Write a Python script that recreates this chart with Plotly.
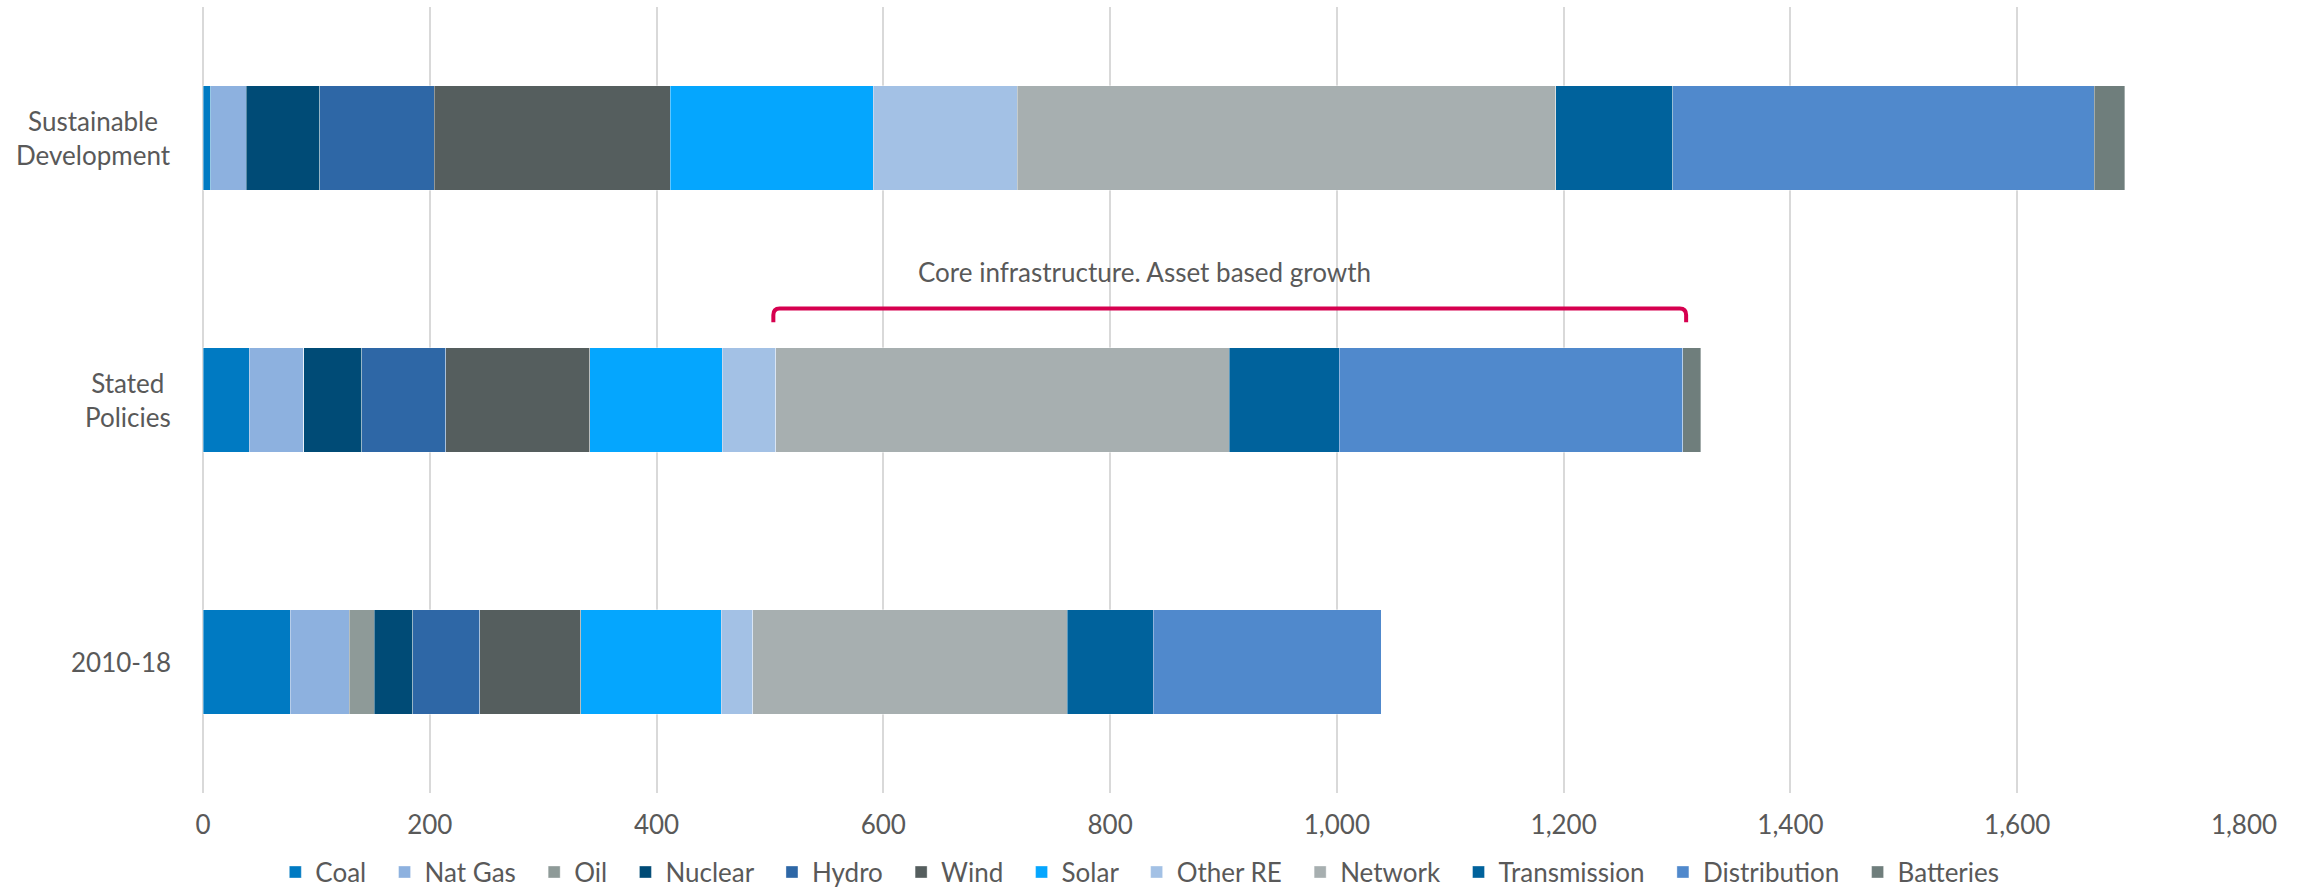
import plotly.graph_objects as go

# Investment by technology, three scenarios (horizontal stacked bars)
categories = ["2010-18", "Stated Policies", "Sustainable Development"]
category_labels = ["2010-18", "Stated<br>Policies", "Sustainable<br>Development"]

series_names = ["Coal", "Nat Gas", "Oil", "Nuclear", "Hydro", "Wind", "Solar",
                "Other RE", "Network", "Transmission", "Distribution", "Batteries"]

coal = [77, 41, 7]
nat_gas = [52, 48, 31]
oil = [22, 0, 0]
nuclear = [34, 51, 65]
hydro = [59, 74, 101]
wind = [89, 127, 208]
solar = [124, 117, 179]
other_re = [28, 47, 127]
network = [277, 400, 475]
transmission = [76, 97, 103]
distribution = [201, 303, 372]
batteries = [0, 16, 27]

series_values = [coal, nat_gas, oil, nuclear, hydro, wind, solar,
                 other_re, network, transmission, distribution, batteries]

series_colors = ["#007AC2", "#8DB1DF", "#8E9A98", "#004B76", "#2E67A6", "#555E5E",
                 "#05A6FE", "#A3C1E5", "#A7AFB0", "#00629C", "#5089CC", "#6F7E7C"]

x_ticks = [0, 200, 400, 600, 800, 1000, 1200, 1400, 1600, 1800]

# Bracket spanning the core-infrastructure segments of the Stated Policies bar
bracket_x = [503, 1308]
bracket_label = "Core infrastructure. Asset based growth"
bracket_label_x = 830

FONT = "Lato, Liberation Sans, Arial, sans-serif"
TEXT_COLOR = "#595959"

# extra breathing room after each legend entry (non-breaking spaces)
LEGEND_PAD = "\u00a0\u00a0"

fig = go.Figure()
n_series = len(series_names)
for i, (name, vals, color) in enumerate(zip(series_names, series_values, series_colors)):
    legend_name = name + (LEGEND_PAD if i < n_series - 1 else "")
    fig.add_trace(go.Bar(
        name=legend_name,
        y=categories,
        x=vals,
        orientation="h",
        marker=dict(color=color, line=dict(color="rgba(255,255,255,0.45)", width=0.8)),
        hovertemplate="%{y}<br>" + name + ": %{x}<extra></extra>",
    ))

# Category labels, each line centred
annotations = []
for cat, lab in zip(categories, category_labels):
    annotations.append(dict(
        x=0, xref="paper", xanchor="right", xshift=-30,
        y=cat, yref="y", yanchor="middle",
        text=lab, align="center", showarrow=False,
        font=dict(family=FONT, size=26, color=TEXT_COLOR),
    ))

# Bracket label
sp_idx = categories.index("Stated Policies")
annotations.append(dict(
    x=bracket_label_x, xref="x", y=sp_idx + 0.49, yref="y",
    xanchor="center", yanchor="middle",
    text=bracket_label, showarrow=False,
    font=dict(family=FONT, size=26, color=TEXT_COLOR),
))

# Bracket path (rounded top corners)
y_top = sp_idx + 0.349
y_bot = sp_idx + 0.297
rx = 5.5
ry = 0.025
x0, x1 = bracket_x
path = (f"M{x0},{y_bot} L{x0},{y_top - ry} Q{x0},{y_top} {x0 + rx},{y_top} "
        f"L{x1 - rx},{y_top} Q{x1},{y_top} {x1},{y_top - ry} L{x1},{y_bot}")

fig.update_layout(
    width=2305, height=889, autosize=False,
    margin=dict(l=203, r=61, t=7, b=96),
    barmode="stack", bargap=0.6,
    plot_bgcolor="white", paper_bgcolor="white",
    font=dict(family=FONT, size=26, color=TEXT_COLOR),
    xaxis=dict(
        range=[0, 1800], tickvals=x_ticks, tickformat=",",
        showgrid=True, gridcolor="#D9D9D9", gridwidth=1.5,
        zeroline=True, zerolinecolor="#D9D9D9", zerolinewidth=1.5,
        showline=False, ticks="", ticklabelstandoff=14,
        tickfont=dict(family=FONT, size=26, color=TEXT_COLOR),
        fixedrange=True, automargin=False,
    ),
    yaxis=dict(
        type="category", categoryorder="array", categoryarray=categories,
        range=[-0.5, 2.5], showticklabels=False, showgrid=False,
        zeroline=False, showline=False, ticks="", fixedrange=True,
    ),
    legend=dict(
        orientation="h", x=0.459, xanchor="center",
        yref="container", y=0.019, yanchor="middle",
        borderwidth=0,
        font=dict(family=FONT, size=26, color=TEXT_COLOR),
        traceorder="normal", itemclick=False, itemdoubleclick=False,
        bgcolor="rgba(0,0,0,0)",
    ),
    shapes=[dict(type="path", path=path, xref="x", yref="y",
                 line=dict(color="#D6004F", width=4), layer="above")],
    annotations=annotations,
    showlegend=True,
)

fig.write_html("out.html")
